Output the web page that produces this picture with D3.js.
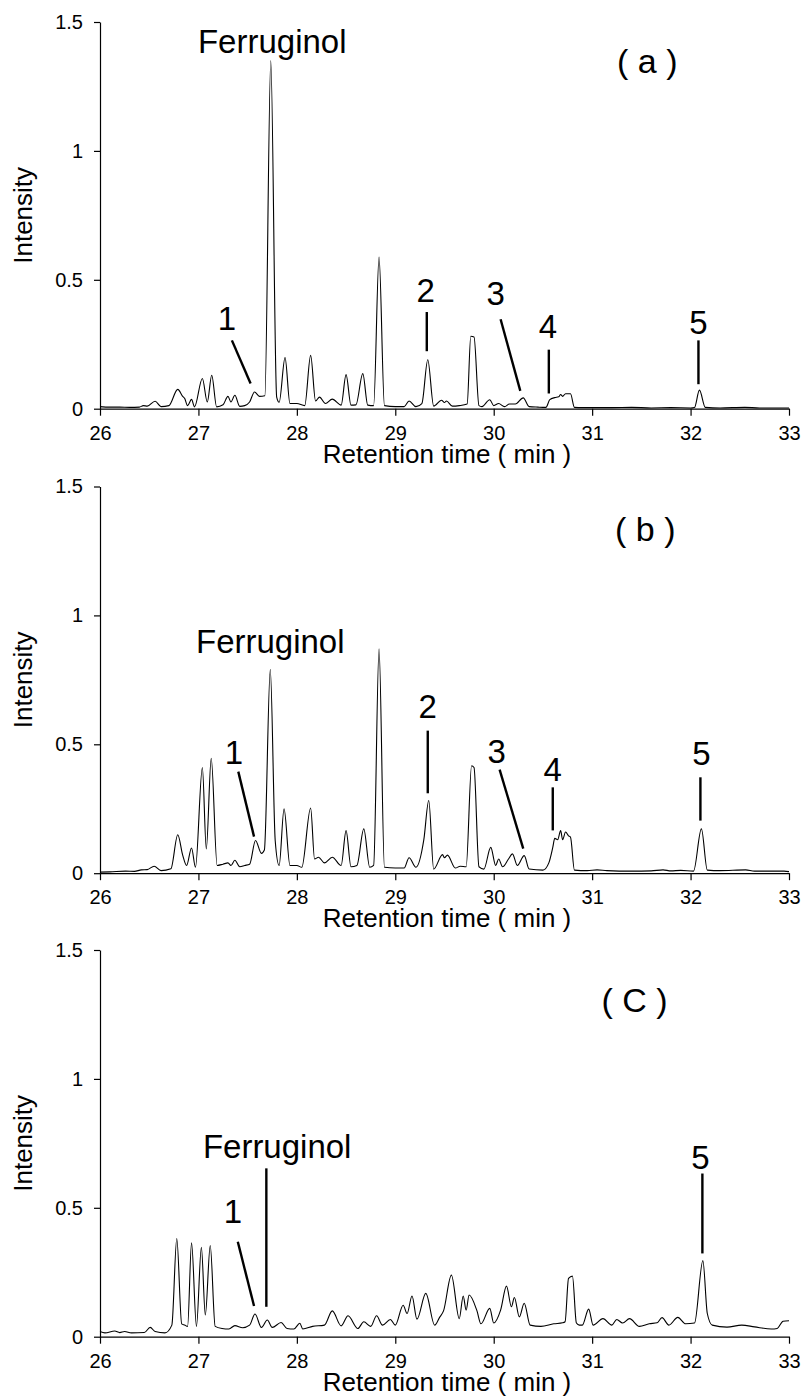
<!DOCTYPE html>
<html>
<head>
<meta charset="utf-8">
<script src="https://cdn.jsdelivr.net/npm/d3@7"></script>
<style>
  body { margin: 0; background: #fff; }
  svg text { font-family: "Liberation Sans", Arial, sans-serif; fill: #000; }
</style>
</head>
<body>
<svg id="chart" width="805" height="1399"></svg>
<script>
// ---------------- DATA ----------------
const xTicks = [26, 27, 28, 29, 30, 31, 32, 33];
const yTicks = [0, 0.5, 1, 1.5];
const yTickLabels = ["0", "0.5", "1", "1.5"];
const xTitle = "Retention time ( min )";
const yTitle = "Intensity";
const panelNames = ["( a )", "( b )", "( C )"];

// Chromatogram (a)
const timeA = [26.00,26.10,26.20,26.30,26.40,26.44,26.48,26.56,26.62,26.70,26.79,26.84,26.86,26.89,26.93,26.96,27.04,27.09,27.135,27.185,27.25,27.30,27.33,27.37,27.42,27.47,27.52,27.57,27.62,27.675,27.735,27.795,27.82,27.88,27.93,28.00,28.08,28.14,28.19,28.23,28.29,28.36,28.45,28.50,28.55,28.60,28.67,28.72,28.78,28.835,28.89,29.00,29.09,29.14,29.21,29.27,29.33,29.39,29.47,29.50,29.52,29.58,29.65,29.73,29.767,29.80,29.85,29.88,29.96,30.00,30.05,30.11,30.16,30.22,30.30,30.36,30.45,30.53,30.57,30.62,30.66,30.68,30.70,30.73,30.78,30.82,30.90,31.00,31.20,31.40,31.60,31.80,32.00,32.04,32.09,32.15,32.30,32.55,32.70,33.00];
const intensityA = [0.008,0.006,0.006,0.005,0.006,0.012,0.010,0.029,0.008,0.012,0.075,0.048,0.040,0.012,0.036,0.007,0.117,0.026,0.130,0.007,0.015,0.048,0.026,0.052,0.009,0.012,0.026,0.065,0.048,0.050,1.350,0.045,0.025,0.198,0.020,0.020,0.012,0.207,0.030,0.045,0.020,0.037,0.014,0.132,0.014,0.015,0.136,0.014,0.012,0.588,0.012,0.008,0.008,0.030,0.008,0.020,0.190,0.010,0.033,0.024,0.030,0.010,0.012,0.018,0.281,0.278,0.012,0.008,0.035,0.012,0.020,0.008,0.018,0.018,0.042,0.008,0.006,0.005,0.035,0.043,0.046,0.055,0.048,0.058,0.058,0.005,0.004,0.004,0.004,0.005,0.003,0.004,0.003,0.005,0.072,0.005,0.003,0.005,0.003,0.003];

// Chromatogram (b)
const timeB = [26.00,26.10,26.26,26.35,26.42,26.48,26.55,26.62,26.72,26.79,26.84,26.88,26.93,26.97,27.04,27.08,27.13,27.19,27.25,27.30,27.33,27.37,27.42,27.47,27.52,27.58,27.64,27.67,27.73,27.78,27.82,27.87,27.93,28.00,28.05,28.14,28.18,28.22,28.28,28.36,28.45,28.50,28.55,28.61,28.68,28.74,28.78,28.835,28.89,29.00,29.09,29.14,29.21,29.29,29.34,29.39,29.48,29.50,29.53,29.61,29.66,29.72,29.775,29.80,29.85,29.90,29.97,30.02,30.05,30.09,30.15,30.19,30.24,30.31,30.36,30.50,30.56,30.60,30.62,30.65,30.68,30.70,30.73,30.76,30.78,30.82,30.95,31.05,31.15,31.40,31.60,31.72,31.80,31.90,32.03,32.11,32.17,32.30,32.56,32.65,32.95,33.00];
const intensityB = [0.004,0.005,0.008,0.007,0.013,0.014,0.027,0.010,0.017,0.149,0.070,0.030,0.098,0.023,0.410,0.094,0.446,0.030,0.035,0.040,0.030,0.050,0.025,0.030,0.035,0.127,0.077,0.090,0.790,0.127,0.030,0.250,0.030,0.030,0.023,0.253,0.055,0.062,0.040,0.062,0.030,0.165,0.025,0.030,0.172,0.023,0.030,0.870,0.023,0.020,0.020,0.060,0.023,0.130,0.282,0.016,0.072,0.060,0.070,0.020,0.027,0.025,0.417,0.410,0.025,0.016,0.100,0.030,0.055,0.025,0.055,0.075,0.030,0.068,0.016,0.012,0.040,0.100,0.135,0.130,0.165,0.130,0.160,0.145,0.140,0.012,0.010,0.013,0.010,0.008,0.009,0.013,0.009,0.011,0.008,0.172,0.012,0.010,0.013,0.008,0.008,0.006];

// Chromatogram (c)
const timeC = [26.00,26.05,26.15,26.20,26.25,26.32,26.45,26.51,26.56,26.66,26.73,26.78,26.83,26.86,26.89,26.93,26.98,27.03,27.07,27.12,27.17,27.24,27.31,27.37,27.45,27.52,27.575,27.64,27.70,27.75,27.84,27.90,27.97,28.03,28.06,28.16,28.28,28.36,28.45,28.52,28.62,28.68,28.75,28.81,28.87,28.95,29.00,29.08,29.12,29.17,29.22,29.31,29.40,29.45,29.49,29.57,29.65,29.69,29.72,29.75,29.83,29.87,29.96,30.00,30.07,30.13,30.18,30.21,30.26,30.31,30.37,30.48,30.61,30.70,30.725,30.76,30.80,30.84,30.87,30.90,30.965,31.01,31.11,31.20,31.25,31.31,31.38,31.48,31.58,31.66,31.71,31.78,31.87,31.95,32.04,32.125,32.17,32.22,32.37,32.52,32.65,32.82,32.88,32.94,33.00];
const intensityC = [0.020,0.015,0.022,0.016,0.020,0.015,0.016,0.036,0.020,0.015,0.045,0.381,0.050,0.045,0.040,0.364,0.040,0.347,0.084,0.354,0.040,0.032,0.030,0.043,0.035,0.045,0.088,0.036,0.065,0.036,0.055,0.032,0.030,0.052,0.030,0.040,0.045,0.100,0.042,0.081,0.032,0.058,0.040,0.081,0.045,0.067,0.045,0.122,0.090,0.158,0.068,0.168,0.045,0.075,0.100,0.239,0.070,0.158,0.103,0.162,0.100,0.050,0.110,0.053,0.103,0.196,0.116,0.152,0.077,0.130,0.045,0.040,0.050,0.054,0.058,0.226,0.235,0.053,0.045,0.045,0.107,0.045,0.070,0.045,0.067,0.053,0.070,0.040,0.050,0.054,0.074,0.045,0.075,0.050,0.053,0.295,0.090,0.045,0.037,0.045,0.038,0.030,0.032,0.060,0.062];

// Peak labels (text anchored at [time, intensity] of label baseline centre)
const labelsA = [["Ferruginol", 27.75, 1.378], ["1", 27.29, 0.304], ["2", 29.31, 0.414], ["3", 30.02, 0.401], ["4", 30.55, 0.276], ["5", 32.08, 0.291]];
const labelsB = [["Ferruginol", 27.73, 0.853], ["1", 27.36, 0.424], ["2", 29.33, 0.602], ["3", 30.03, 0.426], ["4", 30.60, 0.357], ["5", 32.11, 0.421]];
const labelsC = [["Ferruginol", 27.80, 0.695], ["1", 27.35, 0.442], ["5", 32.10, 0.649]];
// Leader lines [t1, v1, t2, v2]
const leadersA = [[27.34, 0.265, 27.53, 0.098], [29.32, 0.375, 29.32, 0.223], [30.07, 0.347, 30.27, 0.069], [30.56, 0.229, 30.56, 0.059], [32.08, 0.265, 32.08, 0.095]];
const leadersB = [[27.405, 0.394, 27.565, 0.142], [29.33, 0.553, 29.33, 0.310], [30.06, 0.402, 30.30, 0.095], [30.60, 0.333, 30.60, 0.166], [32.10, 0.372, 32.10, 0.204]];
const leadersC = [[27.69, 0.653, 27.69, 0.116], [27.40, 0.368, 27.565, 0.119], [32.12, 0.633, 32.12, 0.323]];
// Panel title positions [time, intensity]
const namePos = [[31.56, 1.304], [31.54, 1.29], [31.43, 1.26]];

// ---------------- DRAW ----------------
const svg = d3.select("#chart");
const FONT = '"Liberation Sans", Arial, sans-serif';
const left = 100, right = 789, H = 386.7;
const tops = [22, 486.5, 950];

const panels = [
  {t: timeA, v: intensityA, labels: labelsA, leaders: leadersA},
  {t: timeB, v: intensityB, labels: labelsB, leaders: leadersB},
  {t: timeC, v: intensityC, labels: labelsC, leaders: leadersC}
];

const x = d3.scaleLinear().domain([26, 33]).range([left, right]);

panels.forEach((p, i) => {
  const top = tops[i], bottom = top + H;
  const y = d3.scaleLinear().domain([0, 1.5]).range([bottom, top]);
  const g = svg.append("g");

  // y axis
  const ya = g.append("g").attr("transform", `translate(${left},0)`)
    .call(d3.axisLeft(y).tickValues(yTicks).tickFormat((d, k) => yTickLabels[k])
      .tickSize(6).tickSizeOuter(0).tickPadding(11));
  ya.selectAll("text").attr("font-size", 20).attr("font-family", FONT).attr("fill", "#000");
  ya.selectAll("path,line").attr("stroke", "#000").attr("stroke-width", 1.2);

  // x axis
  const xa = g.append("g").attr("transform", `translate(0,${bottom})`)
    .call(d3.axisBottom(x).tickValues(xTicks).tickFormat(d3.format("d"))
      .tickSize(7).tickSizeOuter(0).tickPadding(10));
  xa.selectAll("text").attr("font-size", 20).attr("font-family", FONT).attr("fill", "#000");
  xa.selectAll("path,line").attr("stroke", "#000").attr("stroke-width", 1.2);

  // axis titles
  g.append("text").attr("x", 447).attr("y", bottom + 54)
    .attr("text-anchor", "middle").attr("font-size", 26).text(xTitle);
  g.append("text").attr("transform", `translate(32,${(top + bottom) / 2}) rotate(-90)`)
    .attr("text-anchor", "middle").attr("font-size", 26).text(yTitle);

  // chromatogram
  const pts = p.t.map((tt, k) => [tt, p.v[k]]);
  g.append("path").datum(pts)
    .attr("d", d3.line().x(d => x(d[0])).y(d => y(d[1])).curve(d3.curveMonotoneX))
    .attr("fill", "none").attr("stroke", "#000").attr("stroke-width", 1.1)
    .attr("stroke-linejoin", "round");

  // leaders
  g.selectAll("line.leader").data(p.leaders).enter().append("line")
    .attr("class", "leader")
    .attr("x1", d => x(d[0])).attr("y1", d => y(d[1]))
    .attr("x2", d => x(d[2])).attr("y2", d => y(d[3]))
    .attr("stroke", "#000").attr("stroke-width", 2.4);

  // labels
  g.selectAll("text.lab").data(p.labels).enter().append("text")
    .attr("class", "lab")
    .attr("x", d => x(d[1])).attr("y", d => y(d[2]))
    .attr("text-anchor", "middle").attr("font-size", 33).text(d => d[0]);

  // panel name
  g.append("text").attr("x", x(namePos[i][0])).attr("y", y(namePos[i][1]))
    .attr("text-anchor", "middle").attr("font-size", 34)
    .attr("xml:space", "preserve").style("white-space", "pre").text(panelNames[i]);
});
</script>
</body>
</html>
